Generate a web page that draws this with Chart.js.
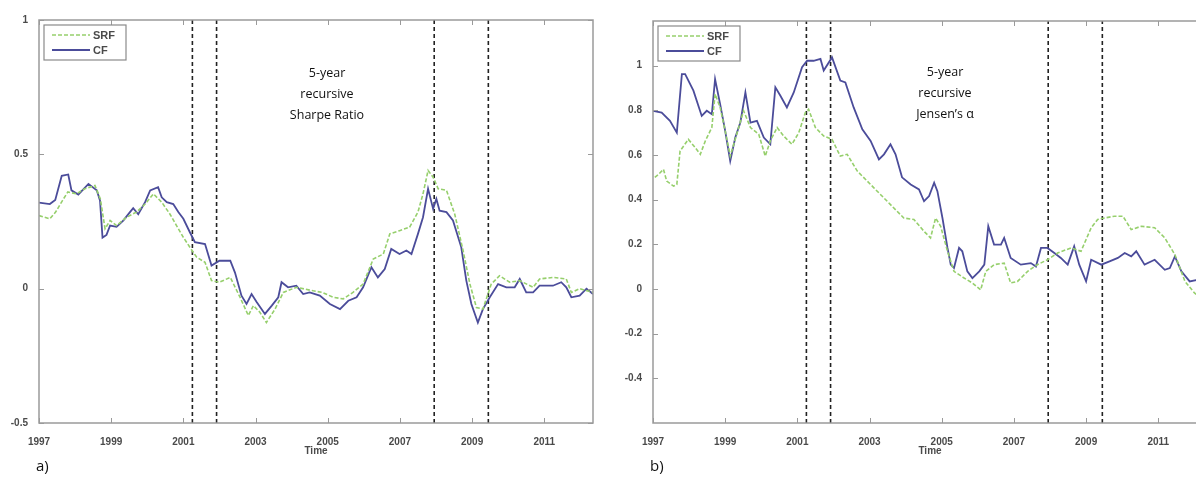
<!DOCTYPE html>
<html>
<head>
<meta charset="utf-8">
<script src="https://cdn.jsdelivr.net/npm/chart.js@4.4.0/dist/chart.umd.min.js"></script>
<style>
    html, body { margin: 0; padding: 0; background: #fff; overflow: hidden; }
    body { width: 1196px; height: 477px; position: relative; }
    canvas { position: absolute; top: 0; }
    .note {
        position: absolute; width: 160px; text-align: center;
        font-family: "Open Sans", sans-serif; font-size: 12.5px; line-height: 21px; color: #111;
    }
    .tag { position: absolute; font-family: "Open Sans", sans-serif; font-size: 15px; color: #111; }
</style>
</head>
<body>
<canvas id="chartA" width="600" height="477" style="left:0"></canvas>
<canvas id="chartB" width="620" height="477" style="left:600px"></canvas>
<div class="note" style="left:247px; top:62px">5-year<br>recursive<br>Sharpe Ratio</div>
<div class="note" style="left:865px; top:61px">5-year<br>recursive<br>Jensen’s α</div>
<div class="tag" style="left:36px; top:455px">a)</div>
<div class="tag" style="left:650px; top:455px">b)</div>
<script>
// Tick labels
const yearTicks = [1997, 1999, 2001, 2003, 2005, 2007, 2009, 2011];
const sharpeTicks = [-0.5, 0, 0.5, 1];
const alphaTicks = [-0.4, -0.2, 0, 0.2, 0.4, 0.6, 0.8, 1];

// Recession start / end dates (dashed verticals)
const recessions = [2001.25, 2001.92, 2007.95, 2009.45];

// a) 5-year recursive Sharpe Ratio
const sharpeCfTime = [1997.0, 1997.3, 1997.45, 1997.63, 1997.81, 1997.9, 1998.09, 1998.37, 1998.6, 1998.69,
    1998.76, 1998.87, 1998.97, 1999.15, 1999.34, 1999.52, 1999.61, 1999.75, 1999.94, 2000.08,
    2000.3, 2000.4, 2000.54, 2000.72, 2000.86, 2001.0, 2001.18, 2001.32, 2001.6, 2001.78,
    2002.0, 2002.3, 2002.43, 2002.61, 2002.75, 2002.89, 2003.03, 2003.26, 2003.45, 2003.63,
    2003.72, 2003.9, 2004.13, 2004.32, 2004.5, 2004.78, 2005.06, 2005.34, 2005.57, 2005.8,
    2005.98, 2006.21, 2006.39, 2006.58, 2006.76, 2006.99, 2007.18, 2007.32, 2007.5, 2007.64,
    2007.78, 2007.92, 2008.01, 2008.1, 2008.29, 2008.47, 2008.7, 2008.84, 2008.98, 2009.16,
    2009.3, 2009.49, 2009.72, 2009.95, 2010.18, 2010.32, 2010.5, 2010.69, 2010.87, 2011.24,
    2011.47, 2011.61, 2011.75, 2011.98, 2012.17, 2012.35];
const sharpeCf = [0.32, 0.315, 0.33, 0.42, 0.425, 0.366, 0.35, 0.39, 0.366, 0.328,
    0.19, 0.20, 0.235, 0.23, 0.254, 0.285, 0.30, 0.277, 0.322, 0.366,
    0.378, 0.34, 0.322, 0.315, 0.285, 0.26, 0.21, 0.173, 0.166, 0.086,
    0.104, 0.104, 0.06, -0.026, -0.057, -0.02, -0.05, -0.094, -0.063, -0.032,
    0.024, 0.005, 0.011, -0.02, -0.014, -0.026, -0.057, -0.076, -0.045, -0.032,
    0.005, 0.08, 0.042, 0.073, 0.148, 0.129, 0.142, 0.129, 0.204, 0.266,
    0.372, 0.297, 0.334, 0.29, 0.285, 0.254, 0.154, 0.03, -0.057, -0.126,
    -0.076, -0.032, 0.017, 0.005, 0.005, 0.036, -0.014, -0.014, 0.011, 0.011,
    0.024, 0.005, -0.032, -0.026, 0.0, -0.02];

const sharpeSrfTime = [1997.0, 1997.3, 1997.46, 1997.65, 1997.8, 1998.04, 1998.27, 1998.55, 1998.7, 1998.83,
    1998.97, 1999.15, 1999.43, 1999.7, 1999.94, 2000.17, 2000.4, 2000.63, 2000.81, 2001.0,
    2001.18, 2001.37, 2001.6, 2001.78, 2002.0, 2002.3, 2002.57, 2002.8, 2002.94, 2003.12,
    2003.3, 2003.54, 2003.77, 2004.13, 2004.6, 2004.85, 2005.15, 2005.43, 2005.7, 2005.98,
    2006.26, 2006.54, 2006.72, 2006.99, 2007.27, 2007.5, 2007.64, 2007.78, 2007.92, 2008.06,
    2008.29, 2008.52, 2008.75, 2008.94, 2009.12, 2009.3, 2009.53, 2009.76, 2010.04, 2010.32,
    2010.69, 2010.87, 2011.24, 2011.61, 2011.75, 2011.98, 2012.35];
const sharpeSrf = [0.272, 0.26, 0.285, 0.328, 0.36, 0.353, 0.372, 0.384, 0.334, 0.223,
    0.254, 0.235, 0.266, 0.285, 0.315, 0.353, 0.322, 0.277, 0.235, 0.191,
    0.154, 0.117, 0.098, 0.03, 0.024, 0.042, -0.032, -0.1, -0.063, -0.088,
    -0.126, -0.076, -0.014, 0.005, -0.008, -0.014, -0.032, -0.038, -0.014, 0.017,
    0.11, 0.129, 0.204, 0.216, 0.229, 0.285, 0.353, 0.44, 0.415, 0.372,
    0.366, 0.277, 0.142, 0.017, -0.07, -0.076, 0.017, 0.048, 0.024, 0.03,
    0.005, 0.036, 0.042, 0.036, -0.014, 0.0, -0.014];

// b) 5-year recursive Jensen's alpha
const alphaCfTime = [1997.0, 1997.24, 1997.47, 1997.66, 1997.8, 1997.89, 1998.12, 1998.35, 1998.49, 1998.63,
    1998.72, 1998.86, 1999.0, 1999.14, 1999.28, 1999.42, 1999.56, 1999.7, 1999.88, 2000.07,
    2000.25, 2000.39, 2000.53, 2000.71, 2000.9, 2001.13, 2001.27, 2001.45, 2001.64, 2001.73,
    2001.96, 2002.19, 2002.33, 2002.56, 2002.8, 2003.03, 2003.26, 2003.4, 2003.58, 2003.72,
    2003.9, 2004.14, 2004.37, 2004.51, 2004.65, 2004.79, 2004.88, 2005.02, 2005.16, 2005.25,
    2005.34, 2005.48, 2005.57, 2005.71, 2005.85, 2006.04, 2006.18, 2006.29, 2006.45, 2006.64,
    2006.73, 2006.91, 2007.19, 2007.47, 2007.61, 2007.75, 2007.93, 2008.12, 2008.3, 2008.49,
    2008.67, 2008.81, 2009.0, 2009.14, 2009.42, 2009.65, 2009.88, 2010.07, 2010.25, 2010.39,
    2010.62, 2010.9, 2011.18, 2011.32, 2011.46, 2011.64, 2011.87, 2012.08, 2012.35];
const alphaCf = [0.798, 0.79, 0.753, 0.70, 0.962, 0.962, 0.888, 0.775, 0.798, 0.783,
    0.94, 0.828, 0.708, 0.573, 0.678, 0.745, 0.88, 0.745, 0.753, 0.678,
    0.648, 0.903, 0.865, 0.813, 0.88, 0.993, 1.022, 1.022, 1.03, 0.978,
    1.037, 0.933, 0.925, 0.813, 0.715, 0.663, 0.58, 0.603, 0.648, 0.603,
    0.50, 0.468, 0.446, 0.393, 0.416, 0.476, 0.438, 0.318, 0.184, 0.109,
    0.094, 0.184, 0.169, 0.079, 0.049, 0.079, 0.109, 0.281, 0.199, 0.199,
    0.229, 0.139, 0.109, 0.116, 0.101, 0.184, 0.184, 0.161, 0.139, 0.109,
    0.191, 0.109, 0.034, 0.131, 0.109, 0.124, 0.139, 0.161, 0.146, 0.169,
    0.109, 0.131, 0.086, 0.094, 0.146, 0.079, 0.034, 0.041, 0.04];

const alphaSrfTime = [1997.05, 1997.15, 1997.29, 1997.38, 1997.57, 1997.66, 1997.75, 1997.98, 1998.17, 1998.31,
    1998.45, 1998.63, 1998.72, 1998.86, 1999.0, 1999.14, 1999.32, 1999.51, 1999.7, 1999.93,
    2000.11, 2000.25, 2000.44, 2000.62, 2000.85, 2001.04, 2001.22, 2001.31, 2001.5, 2001.73,
    2001.96, 2002.19, 2002.38, 2002.66, 2003.12, 2003.58, 2003.95, 2004.23, 2004.51, 2004.69,
    2004.83, 2004.97, 2005.16, 2005.34, 2005.62, 2005.85, 2006.08, 2006.22, 2006.45, 2006.73,
    2006.91, 2007.1, 2007.38, 2007.65, 2007.93, 2008.21, 2008.58, 2008.86, 2009.14, 2009.32,
    2009.51, 2009.79, 2010.02, 2010.25, 2010.53, 2010.9, 2011.18, 2011.46, 2011.74, 2012.01,
    2012.35];
const alphaSrf = [0.50, 0.513, 0.536, 0.483, 0.461, 0.468, 0.618, 0.67, 0.633, 0.603,
    0.663, 0.723, 0.873, 0.813, 0.708, 0.595, 0.693, 0.798, 0.723, 0.693,
    0.595, 0.663, 0.723, 0.685, 0.648, 0.70, 0.79, 0.805, 0.723, 0.685,
    0.67, 0.595, 0.603, 0.528, 0.453, 0.378, 0.318, 0.311, 0.258, 0.229,
    0.318, 0.281, 0.169, 0.079, 0.049, 0.027, -0.004, 0.079, 0.109, 0.116,
    0.027, 0.034, 0.079, 0.109, 0.131, 0.161, 0.184, 0.169, 0.274, 0.311,
    0.318, 0.326, 0.326, 0.266, 0.281, 0.274, 0.229, 0.154, 0.034, -0.019,
    -0.06];

const SRF_COLOR = '#96cf6c';
const CF_COLOR = '#4b4c9a';
const FRAME_COLOR = '#9a9a9a';
const TEXT_COLOR = '#4a4a4a';
const tickFont = { family: 'Liberation Sans, Arial, sans-serif', size: 10, weight: 'bold' };

function toPoints(xs, ys) {
    return xs.map((x, i) => ({ x: x, y: ys[i] }));
}

// MATLAB style box, inward ticks and legend inside the axes
const matlabBox = {
    id: 'matlabBox',
    afterDraw(chart) {
        const ctx = chart.ctx;
        const a = chart.chartArea;
        const xs = chart.scales.x;
        const ys = chart.scales.y;
        ctx.save();
        ctx.strokeStyle = FRAME_COLOR;
        ctx.lineWidth = 1.5;
        ctx.strokeRect(a.left, a.top, a.right - a.left, a.bottom - a.top);
        ctx.lineWidth = 1;
        ctx.beginPath();
        xs.ticks.forEach(t => {
            const px = Math.round(xs.getPixelForValue(t.value)) + 0.5;
            ctx.moveTo(px, a.bottom); ctx.lineTo(px, a.bottom - 5);
            ctx.moveTo(px, a.top); ctx.lineTo(px, a.top + 5);
        });
        ys.ticks.forEach(t => {
            const py = Math.round(ys.getPixelForValue(t.value)) + 0.5;
            ctx.moveTo(a.left, py); ctx.lineTo(a.left + 5, py);
            ctx.moveTo(a.right, py); ctx.lineTo(a.right - 5, py);
        });
        ctx.stroke();

        // legend
        const bx = a.left + 5, by = a.top + 5, bw = 82, bh = 35;
        ctx.fillStyle = '#fff';
        ctx.fillRect(bx, by, bw, bh);
        ctx.strokeStyle = '#8a8a8a';
        ctx.lineWidth = 1.2;
        ctx.strokeRect(bx, by, bw, bh);
        const items = chart.data.datasets.filter(d => !d.isRecession);
        ctx.font = 'bold 11px Liberation Sans, Arial, sans-serif';
        ctx.textBaseline = 'middle';
        items.forEach((d, i) => {
            const ly = by + 10 + i * 15;
            ctx.strokeStyle = d.borderColor;
            ctx.lineWidth = d.borderWidth;
            ctx.setLineDash(d.borderDash || []);
            ctx.beginPath();
            ctx.moveTo(bx + 8, ly); ctx.lineTo(bx + 46, ly);
            ctx.stroke();
            ctx.setLineDash([]);
            ctx.fillStyle = TEXT_COLOR;
            ctx.fillText(d.label, bx + 49, ly + 0.5);
        });
        ctx.restore();
    }
};

function makeChart(id, cfg) {
    const recessionSets = recessions.map(r => ({
        isRecession: true,
        data: [{ x: r, y: cfg.yMin }, { x: r, y: cfg.yMax }],
        borderColor: '#222',
        borderWidth: 1.6,
        borderDash: [4, 3],
        pointRadius: 0
    }));
    new Chart(document.getElementById(id), {
        type: 'line',
        data: {
            datasets: [{
                label: 'SRF',
                data: toPoints(cfg.srfTime, cfg.srf),
                borderColor: SRF_COLOR,
                borderWidth: 1.6,
                borderDash: [4, 2],
                pointRadius: 0,
                tension: 0
            }, {
                label: 'CF',
                data: toPoints(cfg.cfTime, cfg.cf),
                borderColor: CF_COLOR,
                borderWidth: 1.8,
                pointRadius: 0,
                tension: 0
            }].concat(recessionSets)
        },
        options: {
            responsive: false,
            animation: false,
            layout: { padding: { top: cfg.padTop, right: cfg.padRight, left: 0, bottom: 0 } },
            plugins: { legend: { display: false }, tooltip: { enabled: false } },
            scales: {
                x: {
                    type: 'linear',
                    min: 1997,
                    max: 2012.35,
                    afterBuildTicks: s => { s.ticks = yearTicks.map(v => ({ value: v })); },
                    afterFit: s => { s.height = 54; },
                    grid: { display: false },
                    border: { display: false },
                    ticks: { font: tickFont, color: TEXT_COLOR, padding: 5, maxRotation: 0, callback: v => String(v) },
                    title: { display: true, text: 'Time', font: tickFont, color: TEXT_COLOR, padding: { top: 0, bottom: 20 } }
                },
                y: {
                    min: cfg.yMin,
                    max: cfg.yMax,
                    afterBuildTicks: s => { s.ticks = cfg.yTicks.map(v => ({ value: v })); },
                    afterFit: s => { s.width = cfg.yWidth; },
                    grid: { display: false },
                    border: { display: false },
                    ticks: { font: tickFont, color: TEXT_COLOR, padding: 3, callback: v => String(Math.round(v * 10) / 10) }
                }
            }
        },
        plugins: [matlabBox]
    });
}

makeChart('chartA', {
    srfTime: sharpeSrfTime, srf: sharpeSrf, cfTime: sharpeCfTime, cf: sharpeCf,
    yMin: -0.5, yMax: 1, yTicks: sharpeTicks, yWidth: 39, padTop: 20, padRight: 7
});
makeChart('chartB', {
    srfTime: alphaSrfTime, srf: alphaSrf, cfTime: alphaCfTime, cf: alphaCf,
    yMin: -0.6, yMax: 1.2, yTicks: alphaTicks, yWidth: 53, padTop: 21, padRight: 13
});
</script>
</body>
</html>
